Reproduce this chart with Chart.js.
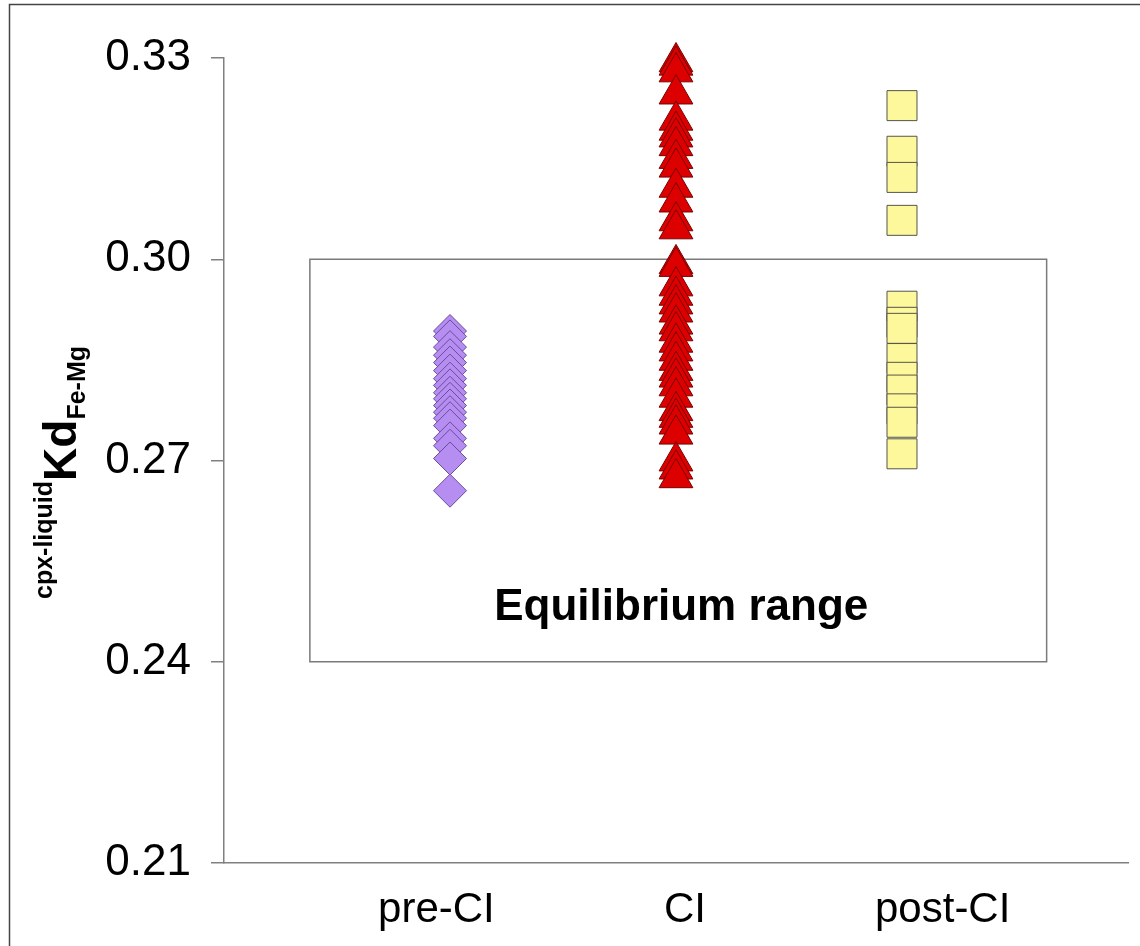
<!DOCTYPE html>
<html><head><meta charset="utf-8">
<script src="https://cdn.jsdelivr.net/npm/chart.js@4/dist/chart.umd.min.js"></script>
<style>html,body{margin:0;padding:0;background:#fff;overflow:hidden}#wrap{width:1140px;height:946px}</style>
</head><body><div id="wrap"><canvas id="c" width="1140" height="946"></canvas></div>
<script>
// ---- data ----
const categories = ['pre-CI', 'CI', 'post-CI'];
const preCI = [0.2893, 0.2885, 0.2869, 0.2857, 0.2846, 0.2834, 0.2822, 0.2812, 0.2801, 0.2792,
               0.2782, 0.2772, 0.2763, 0.2752, 0.2733, 0.2722, 0.2703, 0.2655];
const CI = [0.3294, 0.3289, 0.3279, 0.3246, 0.3207, 0.3192, 0.3182, 0.3169, 0.3150, 0.3137,
            0.3107, 0.3085, 0.3057, 0.3045,
            0.2993, 0.2989, 0.2960, 0.2946, 0.2933, 0.2921, 0.2903, 0.2893, 0.2876, 0.2863,
            0.2849, 0.2834, 0.2824, 0.2811, 0.2794, 0.2774, 0.2764, 0.2754, 0.2739, 0.2699,
            0.2687, 0.2674];
const postCI = [0.3229, 0.3161, 0.3122, 0.3058,
                0.2930, 0.2906, 0.2897, 0.2852, 0.2824, 0.2805, 0.2777, 0.2757, 0.2710];
const yTicks = [0.21, 0.24, 0.27, 0.30, 0.33];
const equilibriumRange = [0.24, 0.30];
const boxLabel = 'Equilibrium range';
const yTitle = ['cpx-liquid', 'Kd', 'Fe-Mg'];

// ---- layout / style ----
const FONT = '"Liberation Sans", Arial, Helvetica, sans-serif';
const labelShift = [-0.06, 0.04, 0.18];   // label nudges along x (layout only)
const boxX = [0.38, 3.64];                 // horizontal extent of the range box (layout)

const toPts = (arr, xi) => arr.map(v => ({ x: xi, y: v }));

const decor = {
  id: 'decor',
  beforeDraw(chart) {
    const ctx = chart.ctx;
    ctx.save();
    ctx.fillStyle = '#fff';
    ctx.fillRect(0, 0, chart.width, chart.height);
    ctx.strokeStyle = '#444';
    ctx.lineWidth = 1.5;
    ctx.beginPath();
    ctx.moveTo(9.5, chart.height);
    ctx.lineTo(9.5, 4.5);
    ctx.lineTo(chart.width, 4.5);
    ctx.stroke();
    ctx.restore();
  },
  beforeDatasetsDraw(chart) {
    const { ctx, scales: { x, y } } = chart;
    const x0 = x.getPixelForValue(boxX[0]), x1 = x.getPixelForValue(boxX[1]);
    const yTop = y.getPixelForValue(equilibriumRange[1]), yBot = y.getPixelForValue(equilibriumRange[0]);
    ctx.save();
    ctx.strokeStyle = '#7a7a7a';
    ctx.lineWidth = 1.5;
    ctx.strokeRect(x0, yTop, x1 - x0, yBot - yTop);
    ctx.fillStyle = '#000';
    ctx.font = 'bold 44px ' + FONT;
    ctx.textAlign = 'center';
    ctx.textBaseline = 'alphabetic';
    ctx.fillText(boxLabel, (x0 + x1) / 2 + 3, yBot - 42);
    ctx.restore();
  },
  afterDraw(chart) {
    const ctx = chart.ctx;
    const area = chart.chartArea;
    ctx.save();
    const fSmall = 'bold 25px ' + FONT, fBig = 'bold 46px ' + FONT;
    ctx.font = fSmall; const w1 = ctx.measureText(yTitle[0]).width;
    ctx.font = fBig;   const w2 = ctx.measureText(yTitle[1]).width;
    ctx.font = fSmall; const w3 = ctx.measureText(yTitle[2]).width;
    const total = w1 + w2 + w3;
    const cy = (area.top + area.bottom) / 2 + 12;
    ctx.translate(76, cy);
    ctx.rotate(-Math.PI / 2);
    ctx.fillStyle = '#000';
    ctx.textAlign = 'left';
    ctx.textBaseline = 'alphabetic';
    let s = -total / 2;
    ctx.font = fSmall; ctx.fillText(yTitle[0], s, -24); s += w1;
    ctx.font = fBig;   ctx.fillText(yTitle[1], s, 0);   s += w2;
    ctx.font = fSmall; ctx.fillText(yTitle[2], s, 9);
    ctx.restore();
  }
};

new Chart(document.getElementById('c'), {
  type: 'scatter',
  data: {
    datasets: [
      { label: categories[0], data: toPts(preCI, 1), pointStyle: 'rectRot', pointRadius: 16.5, clip: false,
        backgroundColor: '#b68ef2', borderColor: '#6a4c9c', borderWidth: 1 },
      { label: categories[1], data: toPts(CI, 2), pointStyle: 'triangle', pointRadius: 19.5, clip: false,
        backgroundColor: '#dc0000', borderColor: '#7a0000', borderWidth: 1 },
      { label: categories[2], data: toPts(postCI, 3), pointStyle: 'rect', pointRadius: 21.2, clip: false,
        backgroundColor: '#fdf89c', borderColor: '#55554a', borderWidth: 1 }
    ]
  },
  options: {
    responsive: false,
    animation: false,
    devicePixelRatio: 1,
    layout: { autoPadding: false, padding: { top: 58, right: 12, left: 0, bottom: 0 } },
    plugins: { legend: { display: false }, tooltip: { enabled: false } },
    scales: {
      x: {
        type: 'linear', min: 0, max: 4, position: 'bottom',
        afterBuildTicks: s => { s.ticks = categories.map((c, i) => ({ value: i + 1 + labelShift[i] })); },
        afterFit: s => { s.height = 83; s.paddingLeft = 0; s.paddingRight = 0; },
        grid: { display: false },
        border: { display: true, color: '#808080', width: 1.5 },
        ticks: { autoSkip: false, maxRotation: 0, padding: 14, color: '#000',
                 font: { size: 42, family: FONT },
                 callback: (v, i) => categories[i] }
      },
      y: {
        min: 0.21, max: 0.33,
        afterBuildTicks: s => { s.ticks = yTicks.map(v => ({ value: v })); },
        afterFit: s => { s.width = 224; },
        grid: { drawOnChartArea: false, drawTicks: true, tickLength: 13, color: '#808080', lineWidth: 1.5 },
        border: { display: true, color: '#808080', width: 1.5 },
        ticks: { padding: 20, color: '#000', font: { size: 44, family: FONT },
                 callback: v => Number(v).toFixed(2) }
      }
    }
  },
  plugins: [decor]
});
</script>
</body></html>
